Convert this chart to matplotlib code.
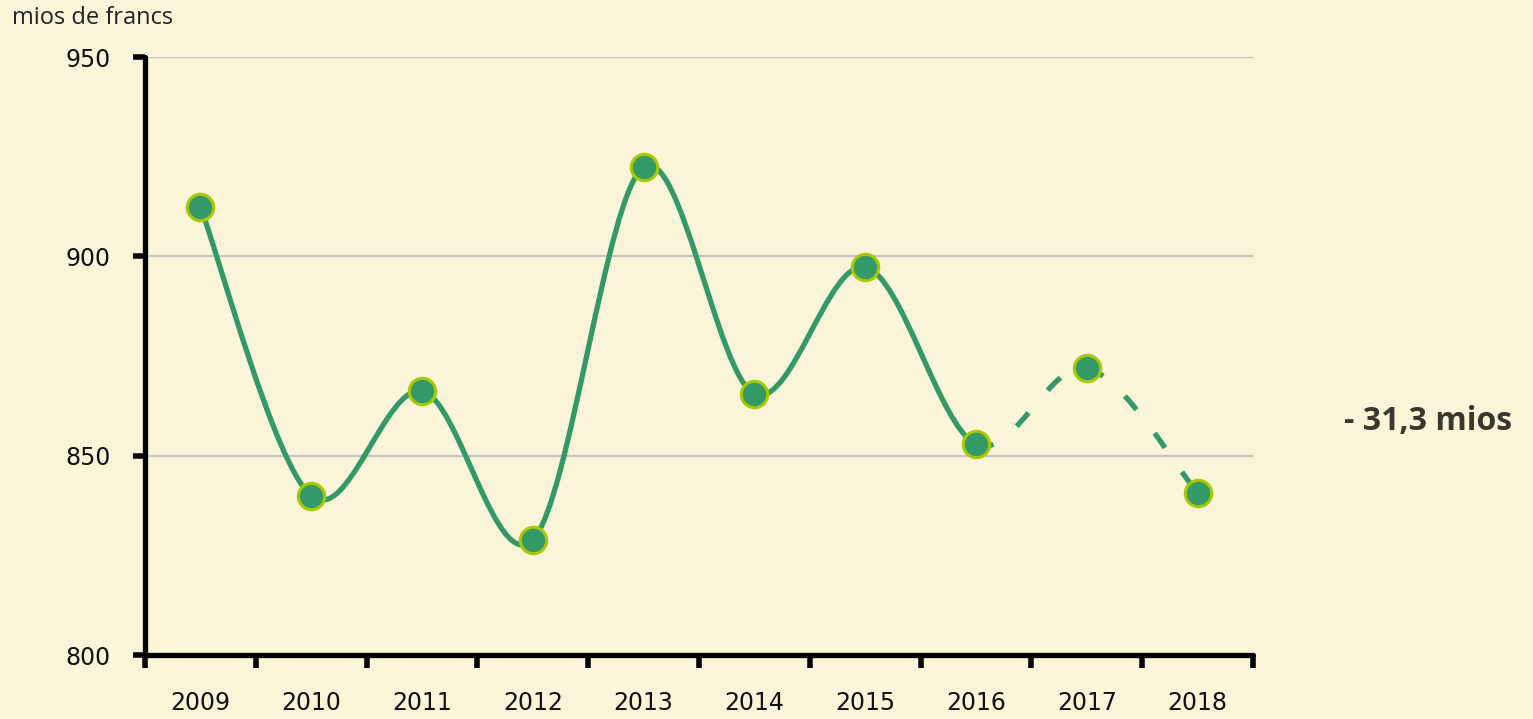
import matplotlib
matplotlib.use('Agg')
import matplotlib.pyplot as plt
from matplotlib.path import Path
from matplotlib.patches import PathPatch
import numpy as np

years = ['2009', '2010', '2011', '2012', '2013', '2014', '2015', '2016', '2017', '2018']
values = [912.4, 839.9, 866.2, 828.9, 922.4, 865.5, 897.3, 852.9, 872.0, 840.6]
y_ticks = [800, 850, 900, 950]
unit_label = 'mios de francs'
delta_label = '- 31,3 mios'
n_actual = 8  # 2009-2016 measured, 2017-2018 dashed

bg = '#faf4d9'
green = '#339966'
lime = '#a8c800'

plt.rcParams['font.family'] = ['Open Sans', 'DejaVu Sans']


def smooth_path(xs, ys, all_x, all_y, start):
    # catmull-rom -> cubic bezier segments, tangents use neighbours in full series
    verts = [(xs[0], ys[0])]
    codes = [Path.MOVETO]
    for i in range(len(xs) - 1):
        k = start + i
        x0, y0 = all_x[max(k - 1, 0)], all_y[max(k - 1, 0)]
        x1, y1 = all_x[k], all_y[k]
        x2, y2 = all_x[k + 1], all_y[k + 1]
        x3, y3 = all_x[min(k + 2, len(all_x) - 1)], all_y[min(k + 2, len(all_y) - 1)]
        c1 = (x1 + (x2 - x0) / 6.0, y1 + (y2 - y0) / 6.0)
        c2 = (x2 - (x3 - x1) / 6.0, y2 - (y3 - y1) / 6.0)
        verts += [c1, c2, (x2, y2)]
        codes += [Path.CURVE4] * 3
    return Path(verts, codes)


fig = plt.figure(figsize=(15.33, 7.19), dpi=100, facecolor=bg)
ax = fig.add_axes([0.0946, 0.089, 0.7228, 0.8317], facecolor=bg)

x = np.arange(len(years))

for t in y_ticks[1:]:
    ax.axhline(t, color='#c4c4c4', lw=1.6, zorder=1)

solid = smooth_path(x[:n_actual], values[:n_actual], x, values, 0)
ax.add_patch(PathPatch(solid, fill=False, edgecolor=green, lw=3.8, zorder=3, capstyle='round'))

dashed = smooth_path(x[n_actual - 1:], values[n_actual - 1:], x, values, n_actual - 1)
ax.add_patch(PathPatch(dashed, fill=False, edgecolor=green, lw=3.8, zorder=3,
                       linestyle=(9, (3.4, 5.6))))

ax.plot(x, values, 'o', ms=19, mfc=green, mec=lime, mew=2.2, zorder=4, clip_on=False)

tick_font = dict(family='DejaVu Sans', size=17, color='#111111')
ax.set_xlim(-0.5, len(years) - 0.5)
ax.set_ylim(800, 950)
ax.set_yticks(y_ticks)
ax.set_yticklabels([str(v) for v in y_ticks], fontdict=tick_font)
ax.set_xticks(np.arange(-0.5, len(years), 1.0))
ax.set_xticklabels([])
ax.set_xticks(x, minor=True)
ax.set_xticklabels(years, minor=True, fontdict=tick_font)
ax.tick_params(axis='x', which='major', direction='out', length=9, width=4, color='black')
ax.tick_params(axis='x', which='minor', length=0, pad=26)
ax.tick_params(axis='y', direction='out', length=9, width=4, pad=16, color='black')

for s in ['top', 'right']:
    ax.spines[s].set_visible(False)
for s in ['left', 'bottom']:
    ax.spines[s].set_linewidth(3.8)
    ax.spines[s].set_capstyle('round')
    ax.spines[s].set_zorder(5)

fig.text(12 / 1533, 1 - 18 / 719, unit_label, fontsize=17, color='#222222', va='center', ha='left')
fig.text(1512 / 1533, 1 - 422 / 719, delta_label, fontsize=23, fontweight='bold',
         color='#3a382c', va='center', ha='right')

fig.savefig('out.png', dpi=100, facecolor=bg)
